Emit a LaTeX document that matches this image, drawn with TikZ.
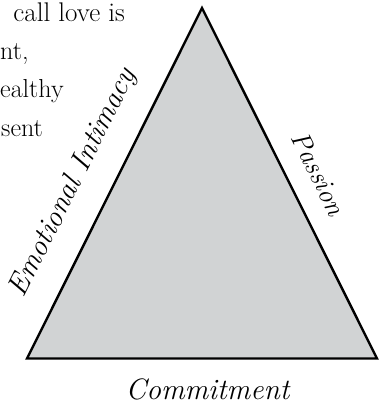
\documentclass[tikz,border=0pt]{standalone}
\definecolor{trifill}{RGB}{209,211,212}
\tikzset{
  body/.style={anchor=base west, inner sep=0pt, font=\fontsize{26}{31}\selectfont},
  sidelabel/.style={anchor=base, inner sep=0pt, font=\fontsize{28}{33}\selectfont\itshape},
  tri/.style={fill=trifill, draw=black, line width=2.4pt, line join=miter}
}
\begin{document}
\begin{tikzpicture}[x=1pt,y=-1pt]
\useasboundingbox (0,0) rectangle (379,406);
\coordinate (top) at (202,8);
\coordinate (bl) at (27,358.5);
\coordinate (br) at (377,358.5);
\draw[tri] (top) -- (br) -- (bl) -- cycle;
\node[body, anchor=base east, font=\fontsize{27}{32}\selectfont] (l1) at (125,22) {call love is};
\node[body] (l2) at (0,60) {nt,};
\node[body] (l3) at (0,98) {ealthy};
\node[body] (l4) at (1,136.5) {sent};
\node[sidelabel, rotate=63.5, font=\fontsize{29.5}{34}\selectfont\itshape] (emo) at (80,186) {Emotional Intimacy};
\node[sidelabel, rotate=-63.5, font=\fontsize{27}{32}\selectfont\itshape] (pas) at (310.5,177.5) {Passion};
\node[sidelabel, font=\fontsize{29.5}{34}\selectfont\itshape] (com) at (207.5,399) {Commitment};
\end{tikzpicture}
\end{document}
